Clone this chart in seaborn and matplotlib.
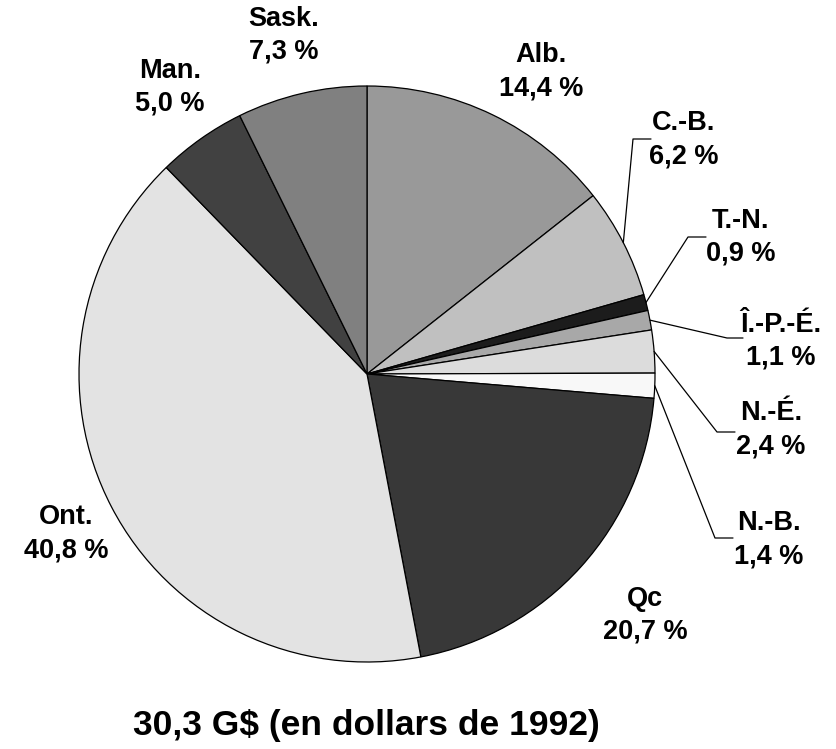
import numpy as np
import matplotlib
matplotlib.use('Agg')
import matplotlib.pyplot as plt
import seaborn as sns

# provinces, clockwise from 12 o'clock
provinces = ['Alb.', 'C.-B.', 'T.-N.', 'Î.-P.-É.', 'N.-É.', 'N.-B.', 'Qc', 'Ont.', 'Man.', 'Sask.']
shares = [14.4, 6.2, 0.9, 1.1, 2.4, 1.4, 20.7, 40.8, 5.0, 7.3]
greys = ['#999999', '#c0c0c0', '#1c1c1c', '#a8a8a8', '#dcdcdc', '#f8f8f8',
         '#383838', '#e3e3e3', '#414141', '#808080']
title = '30,3 G$ (en dollars de 1992)'

# label text centres (pixels from top-left) and leader elbow points (None = no leader)
label_pos = [(541, 72), (684, 140), (741, 237), (781, 341), (771, 430),
             (769, 540), (645, 615), (66, 534), (170, 87), (284, 35)]
elbows = [None, (633, 139, 651), (688, 237, 706), (727, 338, 743), (717, 432, 735),
          (715, 538, 733), None, None, None, None]

W, H = 836, 749
sns.set_style('white')
plt.rcParams['font.family'] = ['Liberation Sans', 'DejaVu Sans']

fig = plt.figure(figsize=(W / 100, H / 100), dpi=100)
ax = fig.add_axes([0, 0, 1, 1])

cx, cy, r = 367, H - 374, 288
wedges, _ = ax.pie(shares, colors=greys, startangle=90, counterclock=False,
                   center=(cx, cy), radius=r, frame=True,
                   wedgeprops=dict(edgecolor='black', linewidth=0.9))
ax.set_xlim(0, W)
ax.set_ylim(0, H)
ax.axis('off')

for name, val, w, (lx, ly), el in zip(provinces, shares, wedges, label_pos, elbows):
    txt = f"{name}\n{str(val).replace('.', ',')} %"
    ax.text(lx, H - ly, txt, ha='center', va='center', fontsize=19.5,
            fontweight='bold', linespacing=1.35, color='black')
    if el is not None:
        ang = np.deg2rad((w.theta1 + w.theta2) / 2)
        sx, sy = cx + r * np.cos(ang), cy + r * np.sin(ang)
        ex, ey, hx = el
        ax.plot([sx, ex, hx], [sy, H - ey, H - ey], color='black', lw=0.9)

ax.text(366, H - 725, title, ha='center', va='center', fontsize=25.5,
        fontweight='bold', color='black')

fig.savefig('out.png', dpi=100)
